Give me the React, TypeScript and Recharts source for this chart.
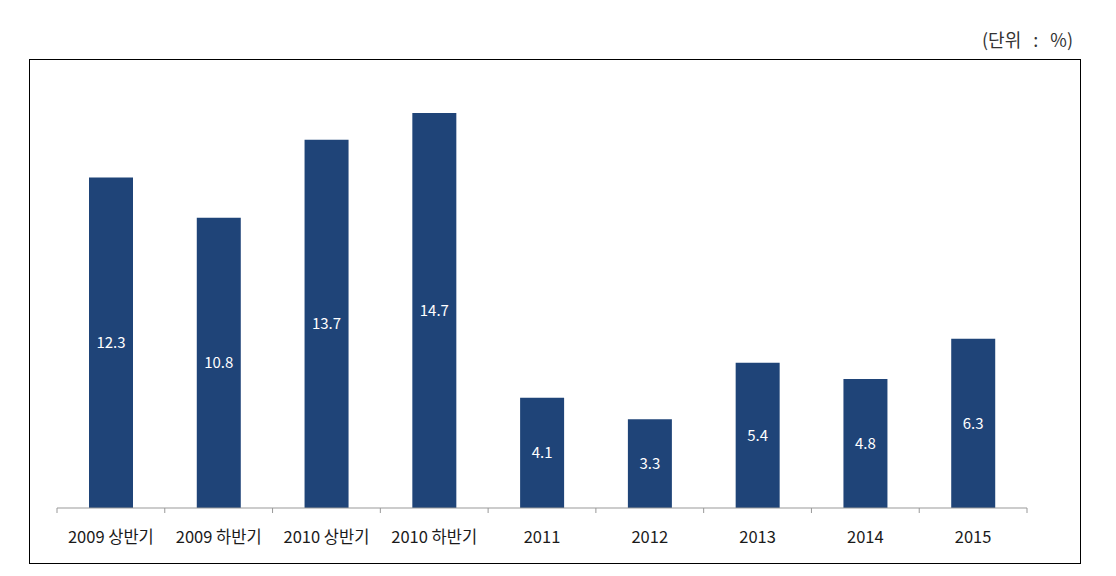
import { BarChart, Bar, XAxis, YAxis, LabelList } from 'recharts'

const categories = ['2009 상반기', '2009 하반기', '2010 상반기', '2010 하반기', '2011', '2012', '2013', '2014', '2015']
const values = [12.3, 10.8, 13.7, 14.7, 4.1, 3.3, 5.4, 4.8, 6.3]
const boundaryTicks = [0, 1, 2, 3, 4, 5, 6, 7, 8, 9]

const data = categories.map((name, i) => ({ name, value: values[i], pos: i + 0.5 }))

const FONT = '"Noto Sans CJK KR", "Noto Sans", sans-serif'

const NoLabel = () => <g />

export default function App() {
  return (
    <div style={{ position: 'absolute', left: 0, top: 0, width: 1116, height: 576, background: '#fff', fontFamily: FONT }}>
      <div
        style={{
          position: 'absolute',
          left: 29,
          top: 59,
          width: 1050,
          height: 503,
          border: '1.5px solid #000',
        }}
      />
      <div style={{ position: 'absolute', right: 43, top: 26, fontSize: 18, color: '#333', whiteSpace: 'pre', wordSpacing: 2 }}>
        (단위  :  %)
      </div>
      <div style={{ position: 'absolute', left: 0, top: 0 }}>
        <BarChart width={1116} height={576} data={data} margin={{ top: 78, right: 89, bottom: 67, left: 57 }}>
          <XAxis
            dataKey="name"
            axisLine={false}
            tickLine={false}
            height={0.01}
            tickMargin={17}
            interval={0}
            tick={{ fill: '#1a1a1a', fontSize: 16.5, fontFamily: FONT }}
          />
          <XAxis
            xAxisId="frame"
            type="number"
            dataKey="pos"
            domain={[0, 9]}
            ticks={boundaryTicks}
            tick={NoLabel}
            tickSize={5}
            height={1}
            stroke="#999"
            allowDataOverflow
          />
          <YAxis hide domain={[0, 16]} />
          <Bar dataKey="value" fill="#1f4478" barSize={44} isAnimationActive={false}>
            <LabelList dataKey="value" position="center" fill="#fff" fontSize={15} fontFamily={FONT} />
          </Bar>
        </BarChart>
      </div>
    </div>
  )
}
